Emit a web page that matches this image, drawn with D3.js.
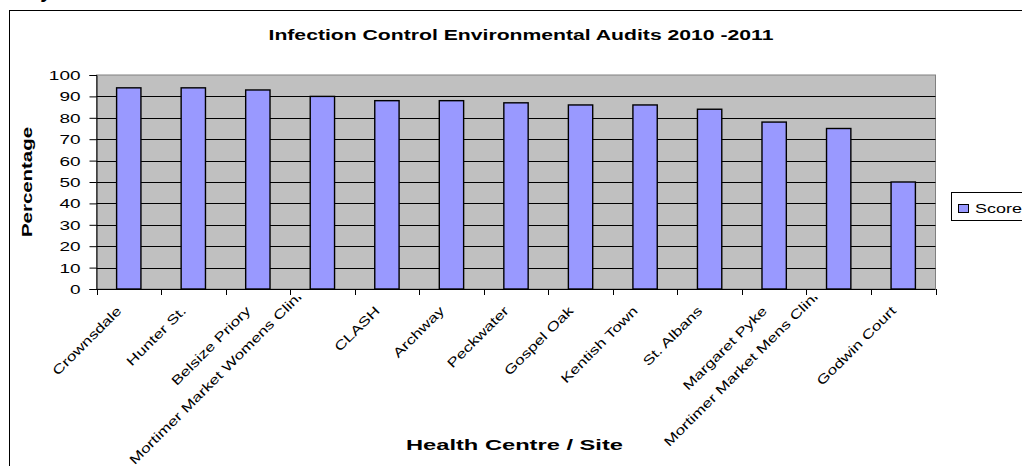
<!DOCTYPE html>
<html>
<head>
<meta charset="utf-8">
<script src="https://cdn.jsdelivr.net/npm/d3@7"></script>
<style>
  html, body { margin: 0; padding: 0; background: #fff; }
  svg { display: block; font-family: "Liberation Sans", Arial, sans-serif; }
</style>
</head>
<body>
<svg id="chart" width="1022" height="466"></svg>
<script>
const categories = ["Crownsdale", "Hunter St.", "Belsize Priory", "Mortimer Market Womens Clinic",
  "CLASH", "Archway", "Peckwater", "Gospel Oak", "Kentish Town", "St. Albans",
  "Margaret Pyke", "Mortimer Market Mens Clinic", "Godwin Court"];
const scores = [94, 94, 93, 90, 88, 88, 87, 86, 86, 84, 78, 75, 50];
const yTicks = [0, 10, 20, 30, 40, 50, 60, 70, 80, 90, 100];
const seriesName = "Score";
const titleText = "Infection Control Environmental Audits 2010 -2011";
const yTitle = "Percentage";
const xTitle = "Health Centre / Site";

const svg = d3.select("#chart");
const P = { left: 96.5, right: 935.5, top: 75, bottom: 289 };

function stretch(sel, k) {
  sel.each(function () {
    const len = this.getComputedTextLength();
    d3.select(this).attr("textLength", len * k).attr("lengthAdjust", "spacingAndGlyphs");
  });
}

// partial heading glyph above the chart frame (cut off in the original as well)
svg.append("text").attr("x", 42).attr("y", -2).attr("font-size", 20)
  .attr("font-weight", "bold").attr("font-style", "italic").text("y");

// chart frame
svg.append("rect").attr("x", 9.5).attr("y", 10.5).attr("width", 1100).attr("height", 600)
  .attr("fill", "#fff").attr("stroke", "#000").attr("stroke-width", 1);

const y = d3.scaleLinear().domain([0, 100]).range([P.bottom, P.top]);
const xCat = d3.scaleBand().domain(categories).range([P.left, P.right]).padding(0);
const xBar = d3.scaleBand().domain(categories).range([P.left, P.right])
  .paddingInner(0.623).paddingOuter(0.3115);

// plot area
svg.append("rect").attr("x", P.left).attr("y", P.top)
  .attr("width", P.right - P.left).attr("height", P.bottom - P.top)
  .attr("fill", "#C0C0C0").attr("stroke", "#808080").attr("stroke-width", 1);

// gridlines
svg.append("g").selectAll("line").data(yTicks.filter(t => t > 0 && t < 100)).join("line")
  .attr("x1", P.left).attr("x2", P.right)
  .attr("y1", d => Math.round(y(d)) + 0.5).attr("y2", d => Math.round(y(d)) + 0.5)
  .attr("stroke", "#000").attr("stroke-width", 1);

// bars
svg.append("g").selectAll("rect").data(categories).join("rect")
  .attr("x", d => xBar(d))
  .attr("y", (d, i) => y(scores[i]))
  .attr("width", xBar.bandwidth())
  .attr("height", (d, i) => y(0) - y(scores[i]))
  .attr("fill", "#9999FF").attr("stroke", "#000").attr("stroke-width", 1.4);

// y axis
const yAxis = svg.append("g").attr("transform", `translate(${P.left},0)`)
  .call(d3.axisLeft(y).tickValues(yTicks).tickSize(7).tickPadding(9).tickFormat(d3.format("d")));
yAxis.selectAll("path,line").attr("stroke", "#000");
yAxis.selectAll("text").attr("font-size", 13).attr("fill", "#000")
  .attr("font-family", "Liberation Sans, Arial, sans-serif").attr("dy", "0.35em");
stretch(yAxis.selectAll("text"), 1.46);

// x axis line and ticks at category boundaries
svg.append("line").attr("x1", P.left).attr("x2", P.right)
  .attr("y1", P.bottom + 0.5).attr("y2", P.bottom + 0.5).attr("stroke", "#000");
const bounds = categories.map(c => xCat(c)).concat([P.right]);
svg.append("g").selectAll("line").data(bounds).join("line")
  .attr("x1", d => Math.round(d) + 0.5).attr("x2", d => Math.round(d) + 0.5)
  .attr("y1", P.bottom).attr("y2", P.bottom + 6).attr("stroke", "#000");

// x labels, rotated, clipped below the axis
svg.append("clipPath").attr("id", "lblclip").append("rect")
  .attr("x", 0).attr("y", 297).attr("width", 1022).attr("height", 200);
const maxLen = 180;
const lbl = svg.append("g").attr("clip-path", "url(#lblclip)");
lbl.selectAll("text").data(categories).join("text")
  .attr("font-size", 13).attr("text-anchor", "end").attr("fill", "#000")
  .text(d => d)
  .each(function (d) {
    const len = this.getComputedTextLength() * 1.33;
    d3.select(this).attr("textLength", len).attr("lengthAdjust", "spacingAndGlyphs");
    const long = len > maxLen;
    const cx = xCat(d) + xCat.bandwidth() / 2 - 6.4 - (long ? 7.5 : 0);
    const cy = 311.6 - (long ? 20 : 0);
    d3.select(this).attr("transform", `translate(${cx},${cy}) rotate(-45)`);
  });

// title
svg.append("text").attr("x", 521).attr("y", 40).attr("text-anchor", "middle")
  .attr("font-size", 15).attr("font-weight", "bold").text(titleText)
  .attr("textLength", 505).attr("lengthAdjust", "spacingAndGlyphs");

// y title
svg.append("text").attr("transform", `translate(31.5,${(P.top + P.bottom) / 2}) rotate(-90)`)
  .attr("text-anchor", "middle").attr("font-size", 15).attr("font-weight", "bold")
  .text(yTitle).attr("textLength", 110).attr("lengthAdjust", "spacingAndGlyphs");

// x title
svg.append("text").attr("x", 514.5).attr("y", 450).attr("text-anchor", "middle")
  .attr("font-size", 15).attr("font-weight", "bold").text(xTitle)
  .attr("textLength", 217).attr("lengthAdjust", "spacingAndGlyphs");

// legend
const lg = svg.append("g");
lg.append("rect").attr("x", 951.5).attr("y", 192.5).attr("width", 100).attr("height", 28)
  .attr("fill", "#fff").attr("stroke", "#000");
lg.append("rect").attr("x", 958.5).attr("y", 204.5).attr("width", 10).attr("height", 8)
  .attr("fill", "#9999FF").attr("stroke", "#000");
lg.append("text").attr("x", 975).attr("y", 213).attr("font-size", 13).text(seriesName)
  .call(s => stretch(s, 1.38));
</script>
</body>
</html>
